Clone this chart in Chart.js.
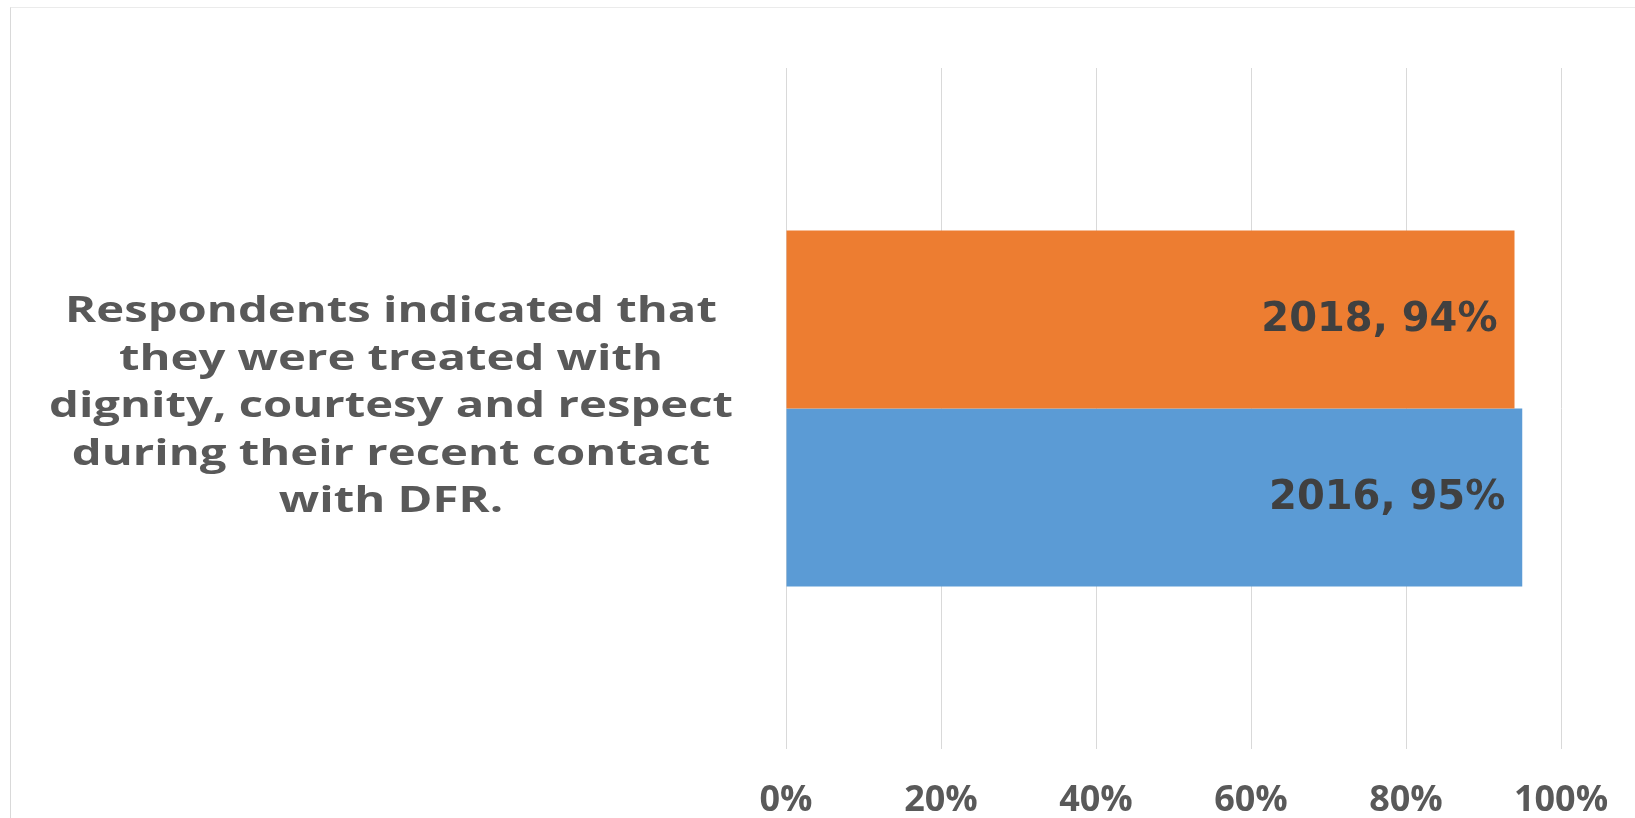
<!DOCTYPE html>
<html><head><meta charset="utf-8">
<script src="https://cdn.jsdelivr.net/npm/chart.js@4/dist/chart.umd.min.js"></script>
<style>
html,body{margin:0;padding:0;background:#fff;overflow:hidden;}
#wrap{position:relative;width:1635px;height:818px;overflow:hidden;}
#frame{position:absolute;left:10px;top:7px;width:1700px;height:900px;border-left:1px solid #d9d9d9;border-top:1px solid #ebebeb;}
canvas{position:absolute;left:0;top:0;}
</style></head><body>
<div id="wrap"><div id="frame"></div><canvas id="c" width="1635" height="818"></canvas></div>
<script>
// ---- data ----
const categoryLines = [["Respondents indicated that","they were treated with","dignity, courtesy and respect","during their recent contact","with DFR."]];
const seriesNames = ["2018", "2016"];
const values2018 = [94];
const values2016 = [95];
const xTickMin = 0, xTickMax = 100, xTickStep = 20;

const labelPlugin = {
  id: 'labels',
  afterDatasetsDraw(chart) {
    const ctx = chart.ctx;
    // data labels "Series, value%"
    ctx.save();
    ctx.font = 'bold 40px "DejaVu Sans"';
    ctx.fillStyle = '#404040';
    ctx.textAlign = 'right';
    ctx.textBaseline = 'middle';
    chart.data.datasets.forEach((ds, di) => {
      const meta = chart.getDatasetMeta(di);
      meta.data.forEach((el, i) => {
        ctx.fillText(ds.label + ', ' + ds.data[i] + '%', el.x - 17, el.y + 1);
      });
    });
    ctx.restore();
    // category label (stretched horizontally like the original)
    const ys = chart.scales.y;
    ctx.save();
    ctx.font = 'bold 35px "Open Sans"';
    ctx.fillStyle = '#595959';
    ctx.textAlign = 'center';
    ctx.textBaseline = 'middle';
    const sx = 1.35, lh = 47.5;
    chart.data.labels.forEach((lines, i) => {
      const cy = ys.getPixelForTick(i) - 1;
      const cx = 391;
      lines.forEach((ln, k) => {
        const y = cy + (k - (lines.length - 1) / 2) * lh;
        ctx.save();
        ctx.translate(cx, y);
        ctx.scale(sx, 1);
        ctx.fillText(ln, 0, 0);
        ctx.restore();
      });
    });
    ctx.restore();
  }
};

new Chart(document.getElementById('c'), {
  type: 'bar',
  data: {
    labels: categoryLines,
    datasets: [
      { label: seriesNames[0], data: values2018, backgroundColor: '#ED7D31', categoryPercentage: 0.523, barPercentage: 1.0 },
      { label: seriesNames[1], data: values2016, backgroundColor: '#5B9BD5', categoryPercentage: 0.523, barPercentage: 1.0 }
    ]
  },
  options: {
    indexAxis: 'y',
    responsive: false,
    animation: false,
    devicePixelRatio: 1,
    layout: { padding: { top: 68, right: 74, left: 0, bottom: 0 } },
    plugins: { legend: { display: false }, tooltip: { enabled: false } },
    scales: {
      x: {
        min: xTickMin, max: xTickMax,
        ticks: { stepSize: xTickStep, callback: v => v + '%', color: '#595959', font: { family: '"Open Sans"', weight: 'bold', size: 36 }, padding: 30 },
        grid: { color: '#d9d9d9', lineWidth: 1, drawTicks: false },
        border: { display: false },
        afterFit: s => { s.height = 69; s.paddingRight = 0; s.paddingLeft = 0; }
      },
      y: {
        ticks: { display: false },
        grid: { display: false },
        border: { display: false },
        afterFit: s => { s.width = 786; }
      }
    }
  },
  plugins: [labelPlugin]
});
</script>
</body></html>
